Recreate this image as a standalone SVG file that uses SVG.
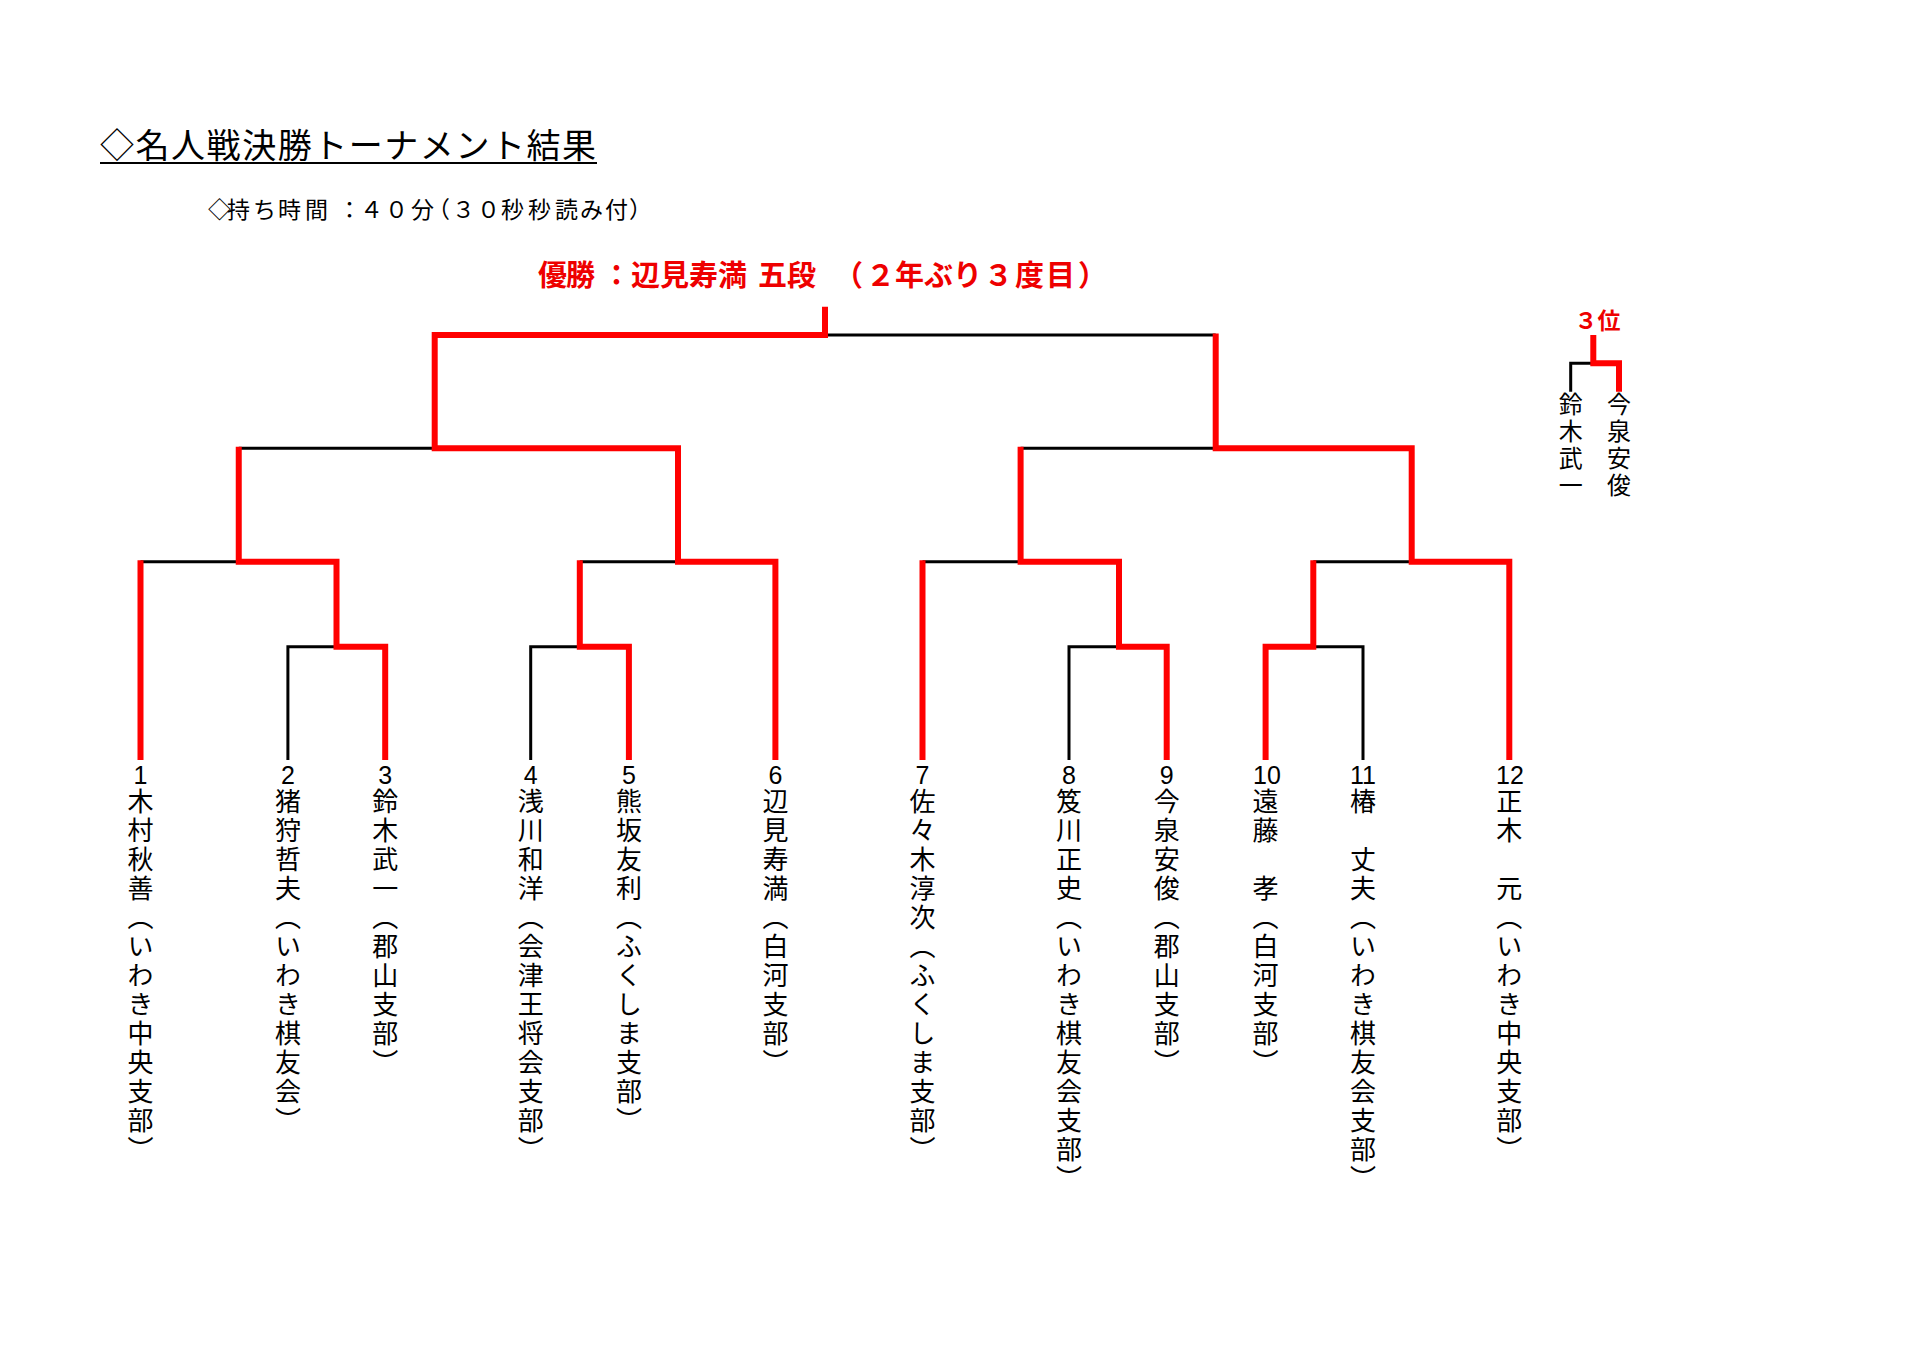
<svg xmlns="http://www.w3.org/2000/svg" width="1917" height="1354" viewBox="0 0 1917 1354">
<style>
.jp{font-family:"Noto Sans CJK JP","Noto Sans CJK SC",sans-serif;}
.title{font-size:34px;fill:#000;}
.sub{font-size:23px;fill:#000;}
.win{font-size:29px;fill:#ee0000;font-weight:bold;}
.num{font-family:"Liberation Sans",Arial,sans-serif;font-size:25px;text-anchor:middle;fill:#000;}
.name{font-size:26px;writing-mode:vertical-rl;letter-spacing:3px;fill:#000;}
.name3{font-size:24px;writing-mode:vertical-rl;letter-spacing:3px;fill:#000;}
.blk{fill:none;stroke:#000;stroke-width:3;stroke-linejoin:miter;stroke-linecap:butt;}
.red{fill:none;stroke:#ff0000;stroke-width:6;stroke-linejoin:miter;stroke-linecap:butt;}
</style>
<rect width="1917" height="1354" fill="#fff"/>
<g id="title">
<text class="jp title" x="100" y="157.5" textLength="496" lengthAdjust="spacing">◇名人戦決勝トーナメント結果</text>
<line x1="100" y1="163" x2="597" y2="163" stroke="#000" stroke-width="2"/>
</g>
<g id="subtitle">
<text class="jp sub" x="208 227 253 278 305 338 360 385 411 427 452 477 501 528 555 580 605 629" y="218">◇持ち時間：４０分（３０秒秒読み付）</text>
</g>
<g id="champion">
<text class="jp win" x="538 566 602 631 660 689 718 747 758 787 834 866 895 924 953 984 1015 1046 1078" y="286">優勝：辺見寿満 五段（２年ぶり３度目）</text>
</g>
<g id="connectors">
<path class="blk" d="M287.9 760 V646.7 H336.5 M530.7 760 V646.7 H579.8 M1069 760 V646.7 H1119 M1313.3 646.7 H1363 V760 M140.5 561.7 H238.75 M579.8 561.7 H678 M922.5 561.7 H1020.6 M1313.3 561.7 H1411.7 M238.75 448.3 H434.7 M1020.6 448.3 H1215.7 M825 335 H1215.7 M1593.3 363.3 H1570.7 V391.7"/>
<path class="red" d="M140.5 760 V560.2"/>
<path class="red" d="M385.2 760 V646.7 H336.5 V561.7 H238.75 V446.8"/>
<path class="red" d="M628.9 760 V646.7 H579.8 V560.2"/>
<path class="red" d="M775.4 760 V561.7 H678 V448.3 H434.7 V335 H825 V306.7"/>
<path class="red" d="M922.5 760 V560.2"/>
<path class="red" d="M1166.7 760 V646.7 H1119 V561.7 H1020.6 V446.8"/>
<path class="red" d="M1265.6 760 V646.7 H1313.3 V560.2"/>
<path class="red" d="M1509.3 760 V561.7 H1411.7 V448.3 H1215.7 V333.5"/>
<path class="red" d="M1619 391.7 V363.3 H1593.3 V335"/>
</g>
<g id="p1"><text class="num" x="140.5" y="784">1</text><text class="jp name" x="140.5" y="788">木村秋善（いわき中央支部）</text></g>
<g id="p2"><text class="num" x="287.9" y="784">2</text><text class="jp name" x="287.9" y="788">猪狩哲夫（いわき棋友会）</text></g>
<g id="p3"><text class="num" x="385.2" y="784">3</text><text class="jp name" x="385.2" y="788">鈴木武一（郡山支部）</text></g>
<g id="p4"><text class="num" x="530.7" y="784">4</text><text class="jp name" x="530.7" y="788">浅川和洋（会津王将会支部）</text></g>
<g id="p5"><text class="num" x="628.9" y="784">5</text><text class="jp name" x="628.9" y="788">熊坂友利（ふくしま支部）</text></g>
<g id="p6"><text class="num" x="775.4" y="784">6</text><text class="jp name" x="775.4" y="788">辺見寿満（白河支部）</text></g>
<g id="p7"><text class="num" x="922.5" y="784">7</text><text class="jp name" x="922.5" y="788">佐々木淳次（ふくしま支部）</text></g>
<g id="p8"><text class="num" x="1069" y="784">8</text><text class="jp name" x="1069" y="788">笈川正史（いわき棋友会支部）</text></g>
<g id="p9"><text class="num" x="1166.7" y="784">9</text><text class="jp name" x="1166.7" y="788">今泉安俊（郡山支部）</text></g>
<g id="p10"><text class="num" x="1267" y="784">10</text><text class="jp name" x="1265.6" y="788">遠藤　孝（白河支部）</text></g>
<g id="p11"><text class="num" x="1363" y="784">11</text><text class="jp name" x="1363" y="788">椿　丈夫（いわき棋友会支部）</text></g>
<g id="p12"><text class="num" x="1510" y="784">12</text><text class="jp name" x="1509.3" y="788">正木　元（いわき中央支部）</text></g>
<g id="third">
<text class="jp win" x="1597.5" y="329" style="font-size:23px;text-anchor:middle">３位</text>
<text class="jp name3" x="1570.7" y="392">鈴木武一</text>
<text class="jp name3" x="1619" y="392">今泉安俊</text>
</g>
</svg>
